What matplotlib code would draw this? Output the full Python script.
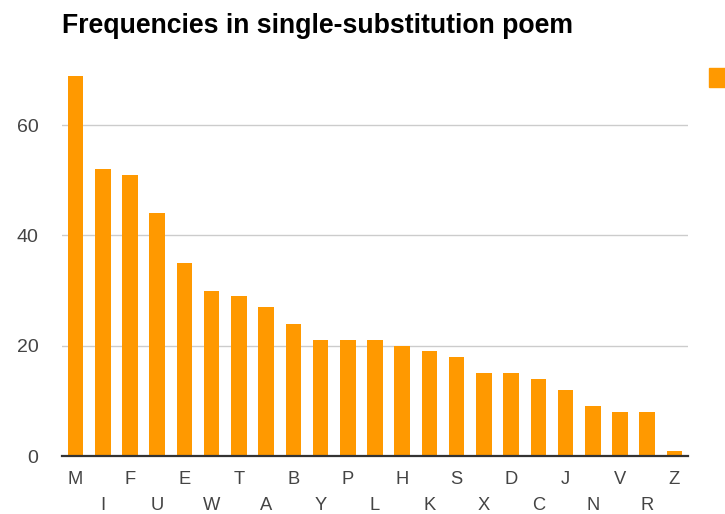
import matplotlib.pyplot as plt
from matplotlib.patches import Rectangle

letters = ['M', 'I', 'F', 'U', 'E', 'W', 'T', 'A', 'B', 'Y', 'P', 'L',
           'H', 'K', 'S', 'X', 'D', 'C', 'J', 'N', 'V', 'R', 'Z']
counts = [69, 52, 51, 44, 35, 30, 29, 27, 24, 21, 21, 21,
          20, 19, 18, 15, 15, 14, 12, 9, 8, 8, 1]
yticks = [0, 20, 40, 60]

plt.rcParams['font.family'] = ['Liberation Sans', 'DejaVu Sans']
orange = '#ff9900'

fig = plt.figure(figsize=(7.25, 5.14), dpi=100)
ax = fig.add_axes([0.0855, 0.1128, 0.8635, 0.751])

x = range(len(letters))
ax.bar(x, counts, width=0.57, color=orange, zorder=3)
ax.set_xlim(-0.5, len(letters) - 0.5)
ax.set_ylim(0, 70)

ax.set_yticks(yticks)
ax.set_yticklabels([str(v) for v in yticks], color='#444444', fontsize=14)
ax.tick_params(axis='y', length=0, pad=17)
ax.yaxis.grid(True, color='#cccccc', linewidth=1, zorder=0)

ax.set_xticks(list(x))
ax.set_xticklabels([l if i % 2 == 0 else '\n' + l for i, l in enumerate(letters)],
                   color='#444444', fontsize=13.2, linespacing=1.68)
ax.tick_params(axis='x', length=0, pad=11)

for s in ['top', 'right', 'left']:
    ax.spines[s].set_visible(False)
ax.spines['bottom'].set_color('#333333')
ax.spines['bottom'].set_linewidth(1.6)
ax.spines['bottom'].set_zorder(4)

fig.text(62 / 725, 1 - 33 / 514, 'Frequencies in single-substitution poem',
         fontsize=19.2, fontweight='bold', va='baseline', ha='left', color='black')

# legend swatch, cut off at the right edge as in the original
fig.patches.append(Rectangle((709 / 725, 1 - 87 / 514), 20 / 725, 19 / 514,
                             transform=fig.transFigure, color=orange))

fig.savefig('out.png', dpi=100)
